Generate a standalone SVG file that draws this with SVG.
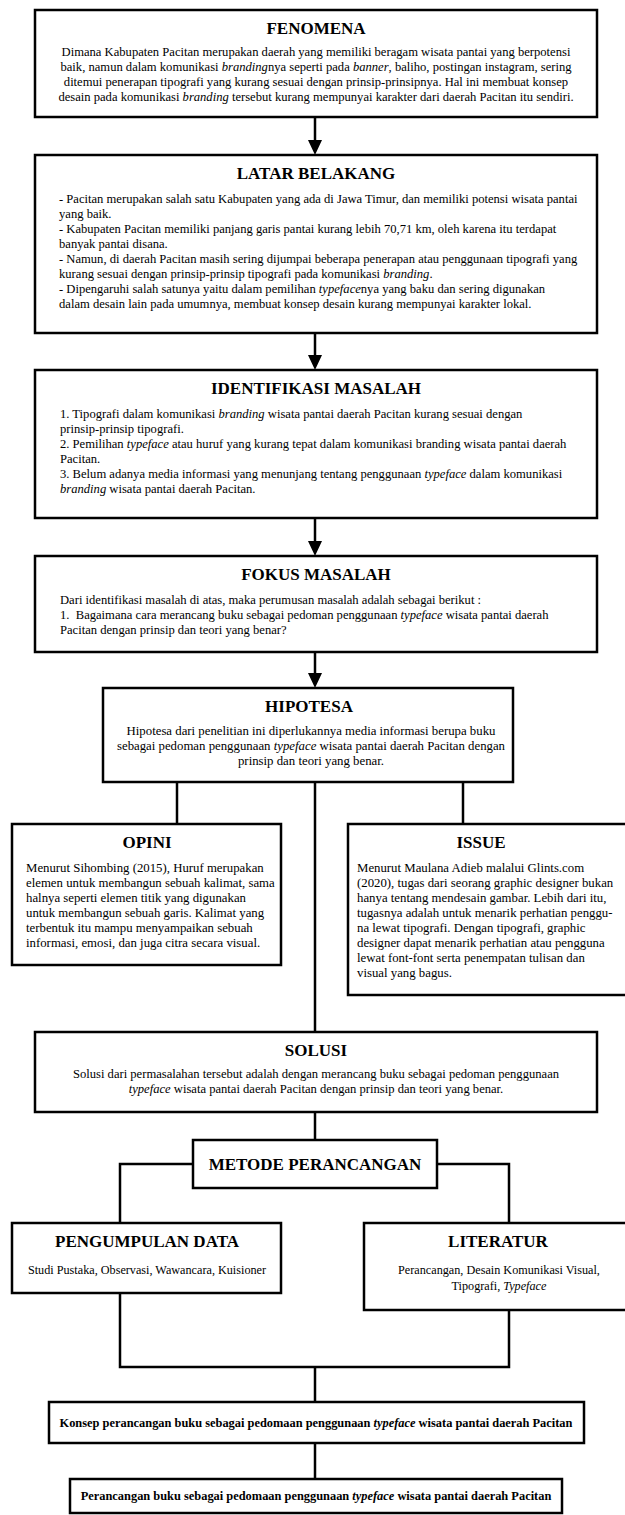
<svg xmlns="http://www.w3.org/2000/svg" width="625" height="1515" viewBox="0 0 625 1515">
<style>
.box{fill:#fff;stroke:#000;stroke-width:2.5}
.t{font-family:"Liberation Serif","Times New Roman",serif;font-size:17px;font-weight:bold;text-anchor:middle;fill:#000}
.b{font-family:"Liberation Serif","Times New Roman",serif;font-size:12.6px;fill:#000}
.m{font-size:12.8px}
.s{font-size:12.2px}
.c{text-anchor:middle}
.bb{font-family:"Liberation Serif","Times New Roman",serif;font-size:12.4px;font-weight:bold;text-anchor:middle;fill:#000}
.i{font-style:italic}
.con{fill:none;stroke:#000;stroke-width:2.5}
.ah{fill:#000}
</style>
<rect width="625" height="1515" fill="#fff"/>
<g id="connectors">
<path class="con" d="M315,117 V145"/><path class="ah" d="M308,140 H322 L315,155 Z"/>
<path class="con" d="M315,333 V360"/><path class="ah" d="M308,355 H322 L315,370 Z"/>
<path class="con" d="M315,518 V546"/><path class="ah" d="M308,541 H322 L315,556 Z"/>
<path class="con" d="M315,652 V678"/><path class="ah" d="M308,673 H322 L315,688 Z"/>
<path class="con" d="M177,782 V824"/>
<path class="con" d="M463,782 V824"/>
<path class="con" d="M315,782 V1032"/>
<path class="con" d="M315,1112 V1140"/>
<path class="con" d="M193,1164 H120 V1223"/>
<path class="con" d="M437,1164 H509 V1223"/>
<path class="con" d="M120,1293 V1367 H509 V1310"/>
<path class="con" d="M315,1367 V1402"/>
<path class="con" d="M315,1443 V1479"/>
</g>
<g id="fenomena">
<rect class="box" x="35" y="10" width="562" height="107"/>
<text class="t" x="316" y="34">FENOMENA</text>
<text class="b c" x="316" y="56">Dimana Kabupaten Pacitan merupakan daerah yang memiliki beragam wisata pantai yang berpotensi</text>
<text class="b c" x="316" y="71">baik, namun dalam komunikasi <tspan class="i">branding</tspan>nya seperti pada <tspan class="i">banner</tspan>, baliho, postingan instagram, sering</text>
<text class="b c" x="316" y="86">ditemui penerapan tipografi yang kurang sesuai dengan prinsip-prinsipnya. Hal ini membuat konsep</text>
<text class="b c" x="316" y="101">desain pada komunikasi <tspan class="i">branding</tspan> tersebut kurang mempunyai karakter dari daerah Pacitan itu sendiri.</text>
</g>
<g id="latar-belakang">
<rect class="box" x="35" y="155" width="562" height="178"/>
<text class="t" x="316" y="179">LATAR BELAKANG</text>
<text class="b" x="59" y="203">- Pacitan merupakan salah satu Kabupaten yang ada di Jawa Timur, dan memiliki potensi wisata pantai</text>
<text class="b" x="59" y="218">yang baik.</text>
<text class="b" x="59" y="233">- Kabupaten Pacitan memiliki panjang garis pantai kurang lebih 70,71 km, oleh karena itu terdapat</text>
<text class="b" x="59" y="248">banyak pantai disana.</text>
<text class="b" x="59" y="263">- Namun, di daerah Pacitan masih sering dijumpai beberapa penerapan atau penggunaan tipografi yang</text>
<text class="b" x="59" y="278">kurang sesuai dengan prinsip-prinsip tipografi pada komunikasi <tspan class="i">branding</tspan>.</text>
<text class="b" x="59" y="293">- Dipengaruhi salah satunya yaitu dalam pemilihan <tspan class="i">typeface</tspan>nya yang baku dan sering digunakan</text>
<text class="b" x="59" y="308">dalam desain lain pada umumnya, membuat konsep desain kurang mempunyai karakter lokal.</text>
</g>
<g id="identifikasi-masalah">
<rect class="box" x="35" y="370" width="562" height="148"/>
<text class="t" x="316" y="394">IDENTIFIKASI MASALAH</text>
<text class="b" x="60" y="418">1. Tipografi dalam komunikasi <tspan class="i">branding</tspan> wisata pantai daerah Pacitan kurang sesuai dengan</text>
<text class="b" x="60" y="433">prinsip-prinsip tipografi.</text>
<text class="b" x="60" y="448">2. Pemilihan <tspan class="i">typeface</tspan> atau huruf yang kurang tepat dalam komunikasi branding wisata pantai daerah</text>
<text class="b" x="60" y="463">Pacitan.</text>
<text class="b" x="60" y="478">3. Belum adanya media informasi yang menunjang tentang penggunaan <tspan class="i">typeface</tspan> dalam komunikasi</text>
<text class="b" x="60" y="493"><tspan class="i">branding</tspan> wisata pantai daerah Pacitan.</text>
</g>
<g id="fokus-masalah">
<rect class="box" x="35" y="556" width="562" height="96"/>
<text class="t" x="316" y="580">FOKUS MASALAH</text>
<text class="b" x="60" y="604">Dari identifikasi masalah di atas, maka perumusan masalah adalah sebagai berikut :</text>
<text class="b" x="60" y="619" xml:space="preserve">1.  Bagaimana cara merancang buku sebagai pedoman penggunaan <tspan class="i">typeface</tspan> wisata pantai daerah</text>
<text class="b" x="60" y="634">Pacitan dengan prinsip dan teori yang benar?</text>
</g>
<g id="hipotesa">
<rect class="box" x="103" y="688" width="410" height="94"/>
<text class="t" x="309" y="712">HIPOTESA</text>
<text class="b m c" x="311" y="735">Hipotesa dari penelitian ini diperlukannya media informasi berupa buku</text>
<text class="b m c" x="311" y="750">sebagai pedoman penggunaan <tspan class="i">typeface</tspan> wisata pantai daerah Pacitan dengan</text>
<text class="b m c" x="311" y="765">prinsip dan teori yang benar.</text>
</g>
<g id="opini">
<rect class="box" x="12" y="824" width="269" height="141"/>
<text class="t" x="147" y="848">OPINI</text>
<text class="b m" x="26" y="872">Menurut Sihombing (2015), Huruf merupakan</text>
<text class="b m" x="26" y="887">elemen untuk membangun sebuah kalimat, sama</text>
<text class="b m" x="26" y="902">halnya seperti elemen titik yang digunakan</text>
<text class="b m" x="26" y="917">untuk membangun sebuah garis. Kalimat yang</text>
<text class="b m" x="26" y="932">terbentuk itu mampu menyampaikan sebuah</text>
<text class="b m" x="26" y="947">informasi, emosi, dan juga citra secara visual.</text>
</g>
<g id="issue">
<rect class="box" x="348" y="824" width="282" height="171"/>
<text class="t" x="481" y="848">ISSUE</text>
<text class="b m" x="357" y="872">Menurut Maulana Adieb malalui Glints.com</text>
<text class="b m" x="357" y="887">(2020), tugas dari seorang graphic designer bukan</text>
<text class="b m" x="357" y="902">hanya tentang mendesain gambar. Lebih dari itu,</text>
<text class="b m" x="357" y="917">tugasnya adalah untuk menarik perhatian penggu-</text>
<text class="b m" x="357" y="932">na lewat tipografi. Dengan tipografi, graphic</text>
<text class="b m" x="357" y="947">designer dapat menarik perhatian atau pengguna</text>
<text class="b m" x="357" y="962">lewat font-font serta penempatan tulisan dan</text>
<text class="b m" x="357" y="977">visual yang bagus.</text>
</g>
<g id="solusi">
<rect class="box" x="35" y="1032" width="562" height="80"/>
<text class="t" x="316" y="1056">SOLUSI</text>
<text class="b c" x="316" y="1078">Solusi dari permasalahan tersebut adalah dengan merancang buku sebagai pedoman penggunaan</text>
<text class="b c" x="316" y="1093"><tspan class="i">typeface</tspan> wisata pantai daerah Pacitan dengan prinsip dan teori yang benar.</text>
</g>
<g id="metode-perancangan">
<rect class="box" x="193" y="1140" width="244" height="48"/>
<text class="t" x="315" y="1170">METODE PERANCANGAN</text>
</g>
<g id="pengumpulan-data">
<rect class="box" x="12" y="1223" width="269" height="70"/>
<text class="t" x="147" y="1247">PENGUMPULAN DATA</text>
<text class="b s c" x="147" y="1274">Studi Pustaka, Observasi, Wawancara, Kuisioner</text>
</g>
<g id="literatur">
<rect class="box" x="364" y="1223" width="266" height="87"/>
<text class="t" x="498" y="1247">LITERATUR</text>
<text class="b s c" x="499" y="1274">Perancangan, Desain Komunikasi Visual,</text>
<text class="b s c" x="499" y="1290">Tipografi, <tspan class="i">Typeface</tspan></text>
</g>
<g id="konsep">
<rect class="box" x="49" y="1402" width="535" height="41"/>
<text class="bb" x="316" y="1427">Konsep perancangan buku sebagai pedomaan penggunaan <tspan class="i">typeface</tspan> wisata pantai daerah Pacitan</text>
</g>
<g id="perancangan">
<rect class="box" x="70" y="1479" width="492" height="34"/>
<text class="bb" x="316" y="1500">Perancangan buku sebagai pedomaan penggunaan <tspan class="i">typeface</tspan> wisata pantai daerah Pacitan</text>
</g>
</svg>
